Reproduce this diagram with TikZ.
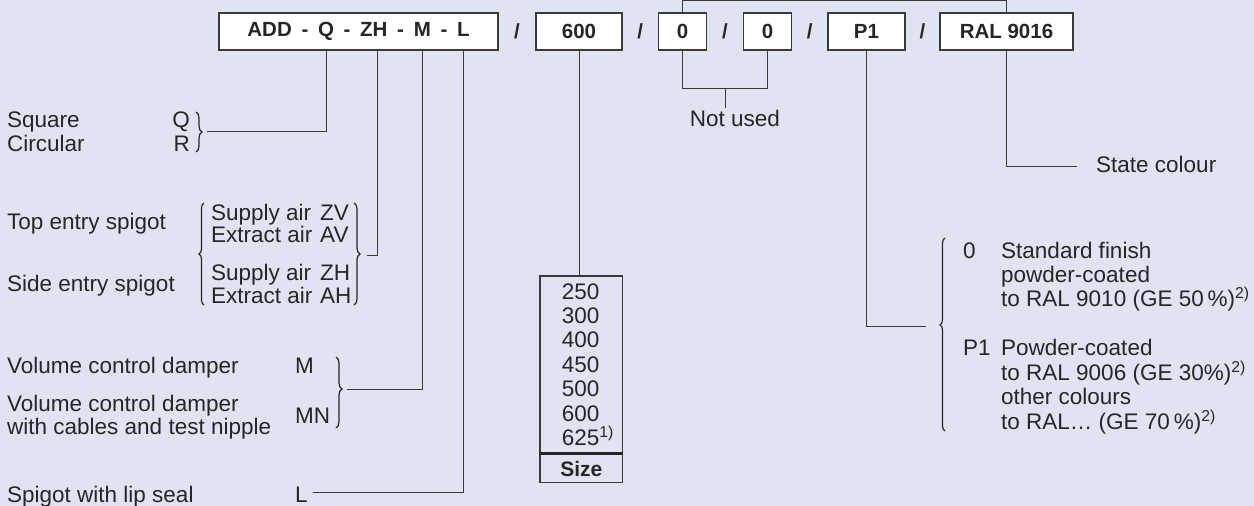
\documentclass[tikz,border=0pt]{standalone}
\usepackage{fontspec}
\setmainfont{Liberation Sans}
\usetikzlibrary{positioning,calc,decorations.pathreplacing}

\definecolor{bgblue}{HTML}{E0E4F2}
\definecolor{ink}{HTML}{262626}
\definecolor{rulegrey}{HTML}{3A3A3A}

\newcommand{\codedash}{\hspace{9.7pt}-\hspace{9.7pt}}

\tikzset{
  every node/.style={text=ink,inner sep=0pt},
  txt/.style={font=\fontsize{22.5}{24}\selectfont,anchor=base west},
  codebox/.style={draw=rulegrey,fill=white,line width=1.1pt,minimum height=37pt,font=\fontsize{20.5}{24}\selectfont\bfseries},
  sep/.style={font=\fontsize{20.5}{24}\selectfont\bfseries},
  lead/.style={draw=rulegrey,line width=1pt},
  curly/.style={draw=ink,line width=1.2pt,decorate,decoration={brace,amplitude=#1}},
  curly/.default=5pt,
}

\begin{document}
\begin{tikzpicture}[x=1pt,y=-1pt]
\fill[bgblue] (0,0) rectangle (1254,506);
\useasboundingbox (0,0) rectangle (1254,506);
% ---- order code ----
\node[codebox,minimum width=279pt] (code) at (358.5,31.5) {ADD\codedash Q\codedash ZH\codedash M\codedash L};
\node[codebox,minimum width=86pt] (size) at (579,31.5) {600};
\node[codebox,minimum width=48pt] (zeroA) at (682.5,31.5) {0};
\node[codebox,minimum width=48pt] (zeroB) at (767.5,31.5) {0};
\node[codebox,minimum width=77pt] (finish) at (866.5,31.5) {P1};
\node[codebox,minimum width=133pt] (colour) at (1006.5,31.5) {RAL 9016};
\foreach \a/\b in {code/size,size/zeroA,zeroA/zeroB,zeroB/finish,finish/colour}
  \node[sep] (sl-\a) at ($(\a.east)!0.5!(\b.west)$) {/};
% ---- shape ----
\node[txt] (square) at (7,127) {Square};
\node[txt] (circular) at (7,151) {Circular};
\node[txt,anchor=base east] (codeQ) at (190,127) {Q};
\node[txt,anchor=base east] (codeR) at (190,151) {R};
\draw[curly=6pt] (196,112) -- (196,152);
\coordinate (qrtip) at (207,131);
\coordinate (legQ) at ([xshift=108pt]code.south west);
\draw[lead] (qrtip) -| (legQ);
% ---- spigot ----
\node[txt] (topentry) at (7,229) {Top entry spigot};
\node[txt] (sideentry) at (7,291) {Side entry spigot};
\draw[curly] (204,305) -- (204,203);
\foreach \t/\c/\yb [count=\i] in {Supply air/ZV/220,Extract air/AV/242,Supply air/ZH/280,Extract air/AH/303}{
  \node[txt] (air\i) at (211,\yb) {\t};
  \node[txt] (aircode\i) at (320,\yb) {\c};
}
\draw[curly=6pt] (354,203) -- (354,305);
\coordinate (airtip) at (367,255);
\coordinate (legZH) at ([xshift=159pt]code.south west);
\draw[lead] (airtip) -| (legZH);
% ---- damper ----
\node[txt] (damper) at (7,373) {Volume control damper};
\node[txt] (damperB) at (7,411) {Volume control damper};
\node[txt] (nipple) at (7,434) {with cables and test nipple};
\node[txt] (codeM) at (295,373) {M};
\node[txt] (codeMN) at (295,423) {MN};
\draw[curly=6pt,decoration={aspect=0.45}] (336,357) -- (336,428);
\coordinate (mtip) at (347,389);
\coordinate (legM) at ([xshift=204pt]code.south west);
\draw[lead] (mtip) -| (legM);
% ---- lip seal ----
\node[txt] (lipseal) at (7,502) {Spigot with lip seal};
\node[txt] (codeL) at (295,502) {L};
\coordinate (ltip) at (313,492);
\coordinate (legL) at ([xshift=245pt]code.south west);
\draw[lead] (ltip) -| (legL);
% ---- size list ----
\node[draw=rulegrey,line width=1.1pt,minimum width=82.7pt,minimum height=206.7pt] (sizelist) at (581.3,379.35) {};
\foreach \v [count=\i from 0] in {250,300,400,450,500,600,625\textsuperscript{1)}}
  \node[txt] (sz\i) at (561.7,299+24.4*\i) {\v};
\draw[draw=ink,line width=2.6pt] ([yshift=29.7pt]sizelist.south west) -- ([yshift=29.7pt]sizelist.south east);
\node[txt,anchor=base,font=\fontsize{21}{24}\selectfont\bfseries] (sizehead) at (581.3,476.7) {Size};
\draw[lead] (size.south) -- (size.south |- sizelist.north);
% ---- not used ----
\draw[lead] (zeroA.south) -- ++(0,38) -| (zeroB.south);
\coordinate (nujoin) at ($(zeroA.south)!0.5!(zeroB.south)+(0,38)$);
\node[txt,anchor=base] (notused) at (735,126) {Not used};
\draw[lead] (nujoin) -- ++(0,19);
\draw[lead] (zeroA.north) -- ++(0,-11.5) -| (colour.north);
\draw[lead] ($(zeroA.north)!0.5!(colour.north)+(0,-11.5)$) -- ++(0,-6);
% ---- finish ----
\node[txt] (fin0) at (963,258) {0};
\node[txt] (fin0a) at (1001,258) {Standard finish};
\node[txt] (fin0b) at (1001,282) {powder-coated};
\node[txt] (fin0c) at (1001,306) {to RAL 9010 (GE 50\,\%)\textsuperscript{2)}};
\node[txt] (finP) at (963,355) {P1};
\node[txt] (finPa) at (1001,355) {Powder-coated};
\node[txt] (finPb) at (1001,380) {to RAL 9006 (GE 30\%)\textsuperscript{2)}};
\node[txt] (finPc) at (1001,404) {other colours};
\node[txt] (finPd) at (1001,429) {to RAL\dots\ (GE 70\,\%)\textsuperscript{2)}};
\draw[curly=5pt,decoration={aspect=0.55}] (945,431) -- (945,238);
\coordinate (ptip) at (926,326);
\draw[lead] (finish.south) |- (ptip);
% ---- colour ----
\node[txt] (statecol) at (1096,172) {State colour};
\coordinate (sctip) at (1077,166.7);
\draw[lead] (colour.south) |- (sctip);
\end{tikzpicture}
\end{document}
